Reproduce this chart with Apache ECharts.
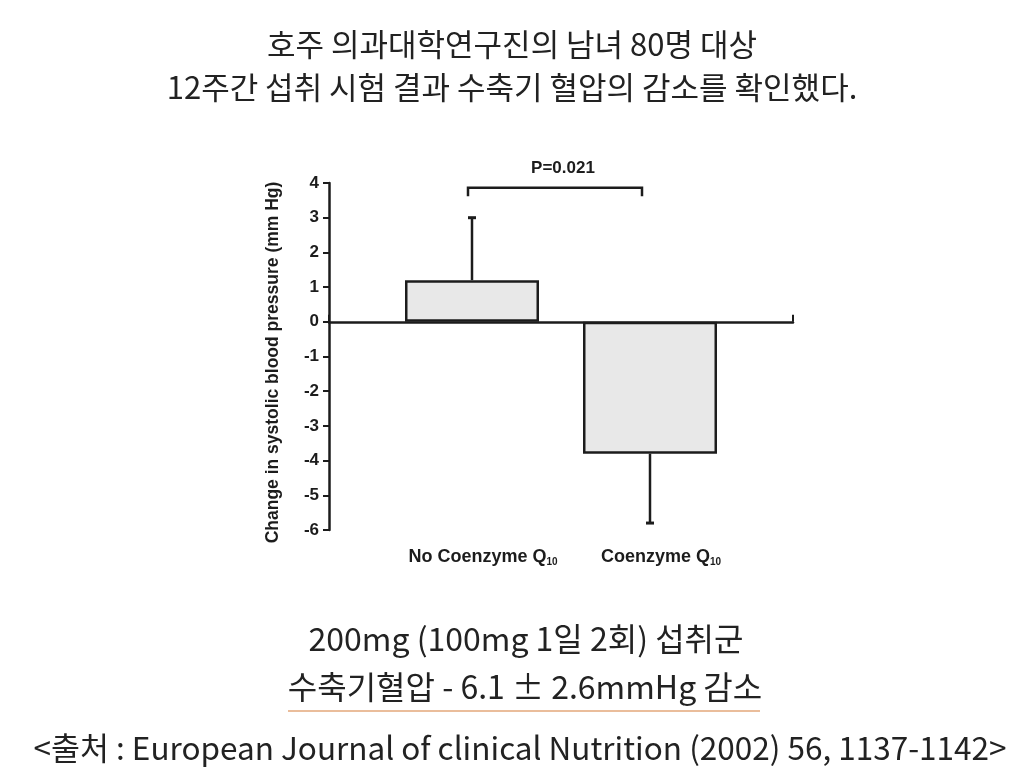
<!DOCTYPE html>
<html>
<head>
<meta charset="utf-8">
<script src="https://cdn.jsdelivr.net/npm/echarts@6/dist/echarts.min.js"></script>
<style>html,body{margin:0;padding:0;background:#fff}#c{width:1024px;height:784px}</style>
</head>
<body>
<div id="c"></div>
<script>
var categories = ['No Coenzyme Q', 'Coenzyme Q'];
var categorySub = ['10', '10'];
var meanChange = [1.2, -3.8];
var errorEnd = [3.0, -5.8];
var bracketTop = 3.86;
var bracketEnd = 3.62;
var pLabel = 'P=0.021';
var yMin = -6, yMax = 4, yStep = 1;
var yAxisName = 'Change in systolic blood pressure (mm Hg)';
var titleLines = ['호주 의과대학연구진의 남녀 80명 대상', '12주간 섭취 시험 결과 수축기 혈압의 감소를 확인했다.'];
var noteLines = ['200mg (100mg 1일 2회) 섭취군', '수축기혈압 - 6.1 ± 2.6mmHg 감소'];
var sourceLine = '<출처 : European Journal of clinical Nutrition (2002) 56, 1137-1142>';

var ink = '#1c1c1c';
var kr = '"Noto Sans CJK KR", "Noto Sans", sans-serif';
var sans = '"Liberation Sans", Arial, sans-serif';

var chart = echarts.init(document.getElementById('c'));
var option = {
  animation: false,
  backgroundColor: '#fff',
  title: [
    {text: titleLines[0], left: 'center', top: 24, textStyle: {fontFamily: kr, fontSize: 31, fontWeight: 'normal', color: '#222'}},
    {text: titleLines[1], left: 'center', top: 67, textStyle: {fontFamily: kr, fontSize: 31, fontWeight: 'normal', color: '#222'}},
    {text: noteLines[0], left: 521, textAlign: 'center', top: 618, textStyle: {fontFamily: kr, fontSize: 32, fontWeight: 'normal', color: '#222'}},
    {text: noteLines[1], left: 520, textAlign: 'center', top: 666, textStyle: {fontFamily: kr, fontSize: 32, fontWeight: 'normal', color: '#222'}},
    {text: sourceLine, left: 515, textAlign: 'center', top: 727, textStyle: {fontFamily: kr, fontSize: 31.5, fontWeight: 'normal', color: '#222'}}
  ],
  graphic: [
    {type: 'line', shape: {x1: 288, y1: 711, x2: 760, y2: 711}, style: {stroke: '#e3a77a', lineWidth: 1.5}}
  ],
  grid: [
    {left: 383, width: 356, top: 183, height: 347},
    {left: 329, width: 464, top: 183, height: 347}
  ],
  xAxis: [
    {
      type: 'category', gridIndex: 0, data: categories,
      axisLine: {show: false, onZero: false}, axisTick: {show: false},
      axisLabel: {
        margin: 17, interval: 0, padding: [0, 0, 0, 22],
        formatter: function (v, i) { return '{a|' + v + '}{s|' + categorySub[i] + '}'; },
        rich: {
          a: {fontFamily: sans, fontWeight: 'bold', fontSize: 18, color: ink},
          s: {fontFamily: sans, fontWeight: 'bold', fontSize: 10, color: ink, padding: [10, 0, 0, 0]}
        }
      }
    },
    {
      type: 'value', gridIndex: 1, min: 0, max: 1, interval: 1,
      axisLine: {show: true, onZero: true, lineStyle: {color: ink, width: 2.5}},
      axisTick: {show: true, inside: true, length: 7, lineStyle: {color: ink, width: 2}},
      axisLabel: {show: false}, splitLine: {show: false}
    }
  ],
  yAxis: [
    {
      type: 'value', gridIndex: 0, min: yMin, max: yMax, interval: yStep, offset: 54,
      name: yAxisName, nameLocation: 'middle', nameGap: 47, nameRotate: 90,
      nameTextStyle: {fontFamily: sans, fontWeight: 'bold', fontSize: 17.5, color: ink, padding: [0, 12, 0, 0]},
      axisLine: {show: true, onZero: false, lineStyle: {color: ink, width: 2.5}},
      axisTick: {show: true, length: 6, lineStyle: {color: ink, width: 2}},
      axisLabel: {fontFamily: sans, fontWeight: 'bold', fontSize: 17, color: ink, margin: 10},
      splitLine: {show: false}
    },
    {type: 'value', gridIndex: 1, min: yMin, max: yMax, show: false}
  ],
  series: [
    {
      type: 'bar', xAxisIndex: 0, yAxisIndex: 0, data: meanChange, barWidth: 134, z: 3,
      itemStyle: {color: '#e8e8e8', borderColor: ink, borderWidth: 2.5}
    },
    {
      type: 'custom', xAxisIndex: 0, yAxisIndex: 0, z: 2,
      data: errorEnd.map(function (e, i) { return [i, meanChange[i], e]; }),
      renderItem: function (params, api) {
        var a = api.coord([api.value(0), api.value(1)]);
        var b = api.coord([api.value(0), api.value(2)]);
        return {type: 'group', children: [
          {type: 'line', shape: {x1: a[0], y1: a[1], x2: b[0], y2: b[1]}, style: {stroke: ink, lineWidth: 2.5}},
          {type: 'line', shape: {x1: b[0] - 4, y1: b[1], x2: b[0] + 4, y2: b[1]}, style: {stroke: ink, lineWidth: 3}}
        ]};
      }
    },
    {
      type: 'custom', xAxisIndex: 0, yAxisIndex: 0, z: 4,
      data: [[0, 1, bracketTop, bracketEnd]],
      renderItem: function (params, api) {
        var l = api.coord([api.value(0), api.value(2)]);
        var r = api.coord([api.value(1), api.value(2)]);
        var le = api.coord([api.value(0), api.value(3)]);
        var re = api.coord([api.value(1), api.value(3)]);
        var lx = l[0] - 4, rx = r[0] - 8;
        return {type: 'group', children: [
          {type: 'polyline', shape: {points: [[lx, le[1]], [lx, l[1]], [rx, r[1]], [rx, re[1]]]}, style: {stroke: ink, lineWidth: 2.5, fill: null}},
          {type: 'text', x: (lx + rx) / 2 + 8, y: l[1] - 11, style: {text: pLabel, fontFamily: sans, fontWeight: 'bold', fontSize: 17, fill: ink, align: 'center', verticalAlign: 'bottom'}}
        ]};
      }
    }
  ]
};
chart.setOption(option);
</script>
</body>
</html>
